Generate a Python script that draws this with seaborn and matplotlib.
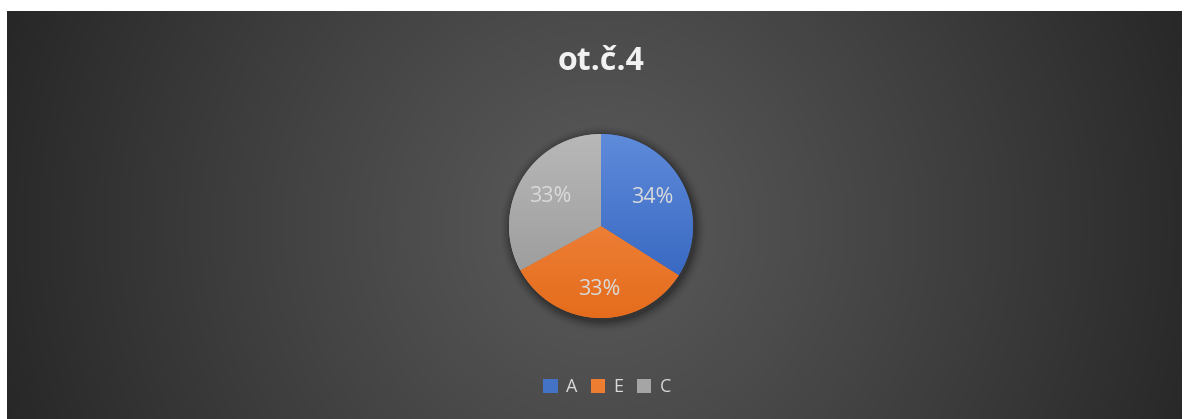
import numpy as np
import seaborn as sns
import matplotlib.pyplot as plt
from matplotlib.colors import to_rgb
from matplotlib.patches import Circle, Patch

# --- data ---
categories = ["A", "E", "C"]
shares = [34, 33, 33]
title = "ot.č.4"

sns.set_theme(style="white")
plt.rcParams["font.family"] = ["Open Sans", "DejaVu Sans"]

base_colors = ["#4472C4", "#ED7D31", "#A5A5A5"]
top_colors = ["#5F8BDA", "#F5914F", "#B8B8B8"]
bottom_colors = ["#2E5FBC", "#E56C1C", "#959595"]

W, H = 1184, 419
fig = plt.figure(figsize=(W / 100, H / 100), dpi=100)
fig.patch.set_facecolor("white")

# --- radial gradient background ---
bx0, by0, bx1, by1 = 7, 11, 1182, 419
bg_ax = fig.add_axes([bx0 / W, 0, (bx1 - bx0) / W, (by1 - by0) / H])
bg_ax.set_axis_off()
yy, xx = np.mgrid[by0:by1, bx0:bx1]
d = np.sqrt((xx - 600) ** 2 + (yy - 226) ** 2) / 640
d = np.clip(d, 0, 1) ** 1.1
c_in = np.array(to_rgb("#5A5A5A"))
c_out = np.array(to_rgb("#262626"))
img = c_in[None, None, :] * (1 - d[..., None]) + c_out[None, None, :] * d[..., None]
bg_ax.imshow(img, aspect="auto", interpolation="bilinear")

# --- pie ---
cx, cy, r = 601, 226, 92
pad = 1.15
ax = fig.add_axes([(cx - r * pad) / W, (H - cy - r * pad) / H,
                   2 * r * pad / W, 2 * r * pad / H])
ax.set_facecolor("none")

# soft shadow
for i, a in enumerate(np.linspace(0.10, 0.02, 6)):
    ax.add_patch(Circle((0.02, -0.03), 1.0 + 0.02 * (i + 1), color="black",
                        alpha=a, lw=0, zorder=0))

wedges, texts, autotexts = ax.pie(
    shares, colors=base_colors, startangle=90, counterclock=False,
    autopct="%1.0f%%", pctdistance=0.64, labels=None,
    wedgeprops=dict(linewidth=0, zorder=1),
    textprops=dict(color="#DADADA", fontsize=15.5),
)
grad = np.linspace(0, 1, 200)[:, None]
for w, ct, cb in zip(wedges, top_colors, bottom_colors):
    ct_, cb_ = np.array(to_rgb(ct)), np.array(to_rgb(cb))
    g = ct_[None, None, :] * (1 - grad[..., None]) + cb_[None, None, :] * grad[..., None]
    g = np.repeat(g, 2, axis=1)
    im = ax.imshow(g, extent=[-1, 1, -1, 1], aspect="auto", zorder=2,
                   interpolation="bilinear")
    im.set_clip_path(w)
for t in autotexts:
    t.set_zorder(5)
# the bottom label sits a bit lower in the reference
autotexts[1].set_y(autotexts[1].get_position()[1] - 0.05)
ax.set_xlim(-pad, pad)
ax.set_ylim(-pad, pad)
ax.set_position([(cx - r * pad) / W, (H - cy - r * pad) / H,
                 2 * r * pad / W, 2 * r * pad / H])
ax.set_axis_off()

# --- title ---
fig.text(601 / W, 1 - 61 / H, title, ha="center", va="center",
         fontsize=23, fontweight="bold", color="#F2F2F2")

# --- legend ---
handles = [Patch(facecolor=c, edgecolor="none") for c in base_colors]
leg = fig.legend(handles, categories, loc="center", bbox_to_anchor=(607 / W, 1 - 387 / H),
                 ncol=3, frameon=False, fontsize=13, handlelength=0.8, handleheight=0.85,
                 handletextpad=0.45, columnspacing=0.75)
for t in leg.get_texts():
    t.set_color("#D9D9D9")

fig.savefig("out.png", dpi=100)
